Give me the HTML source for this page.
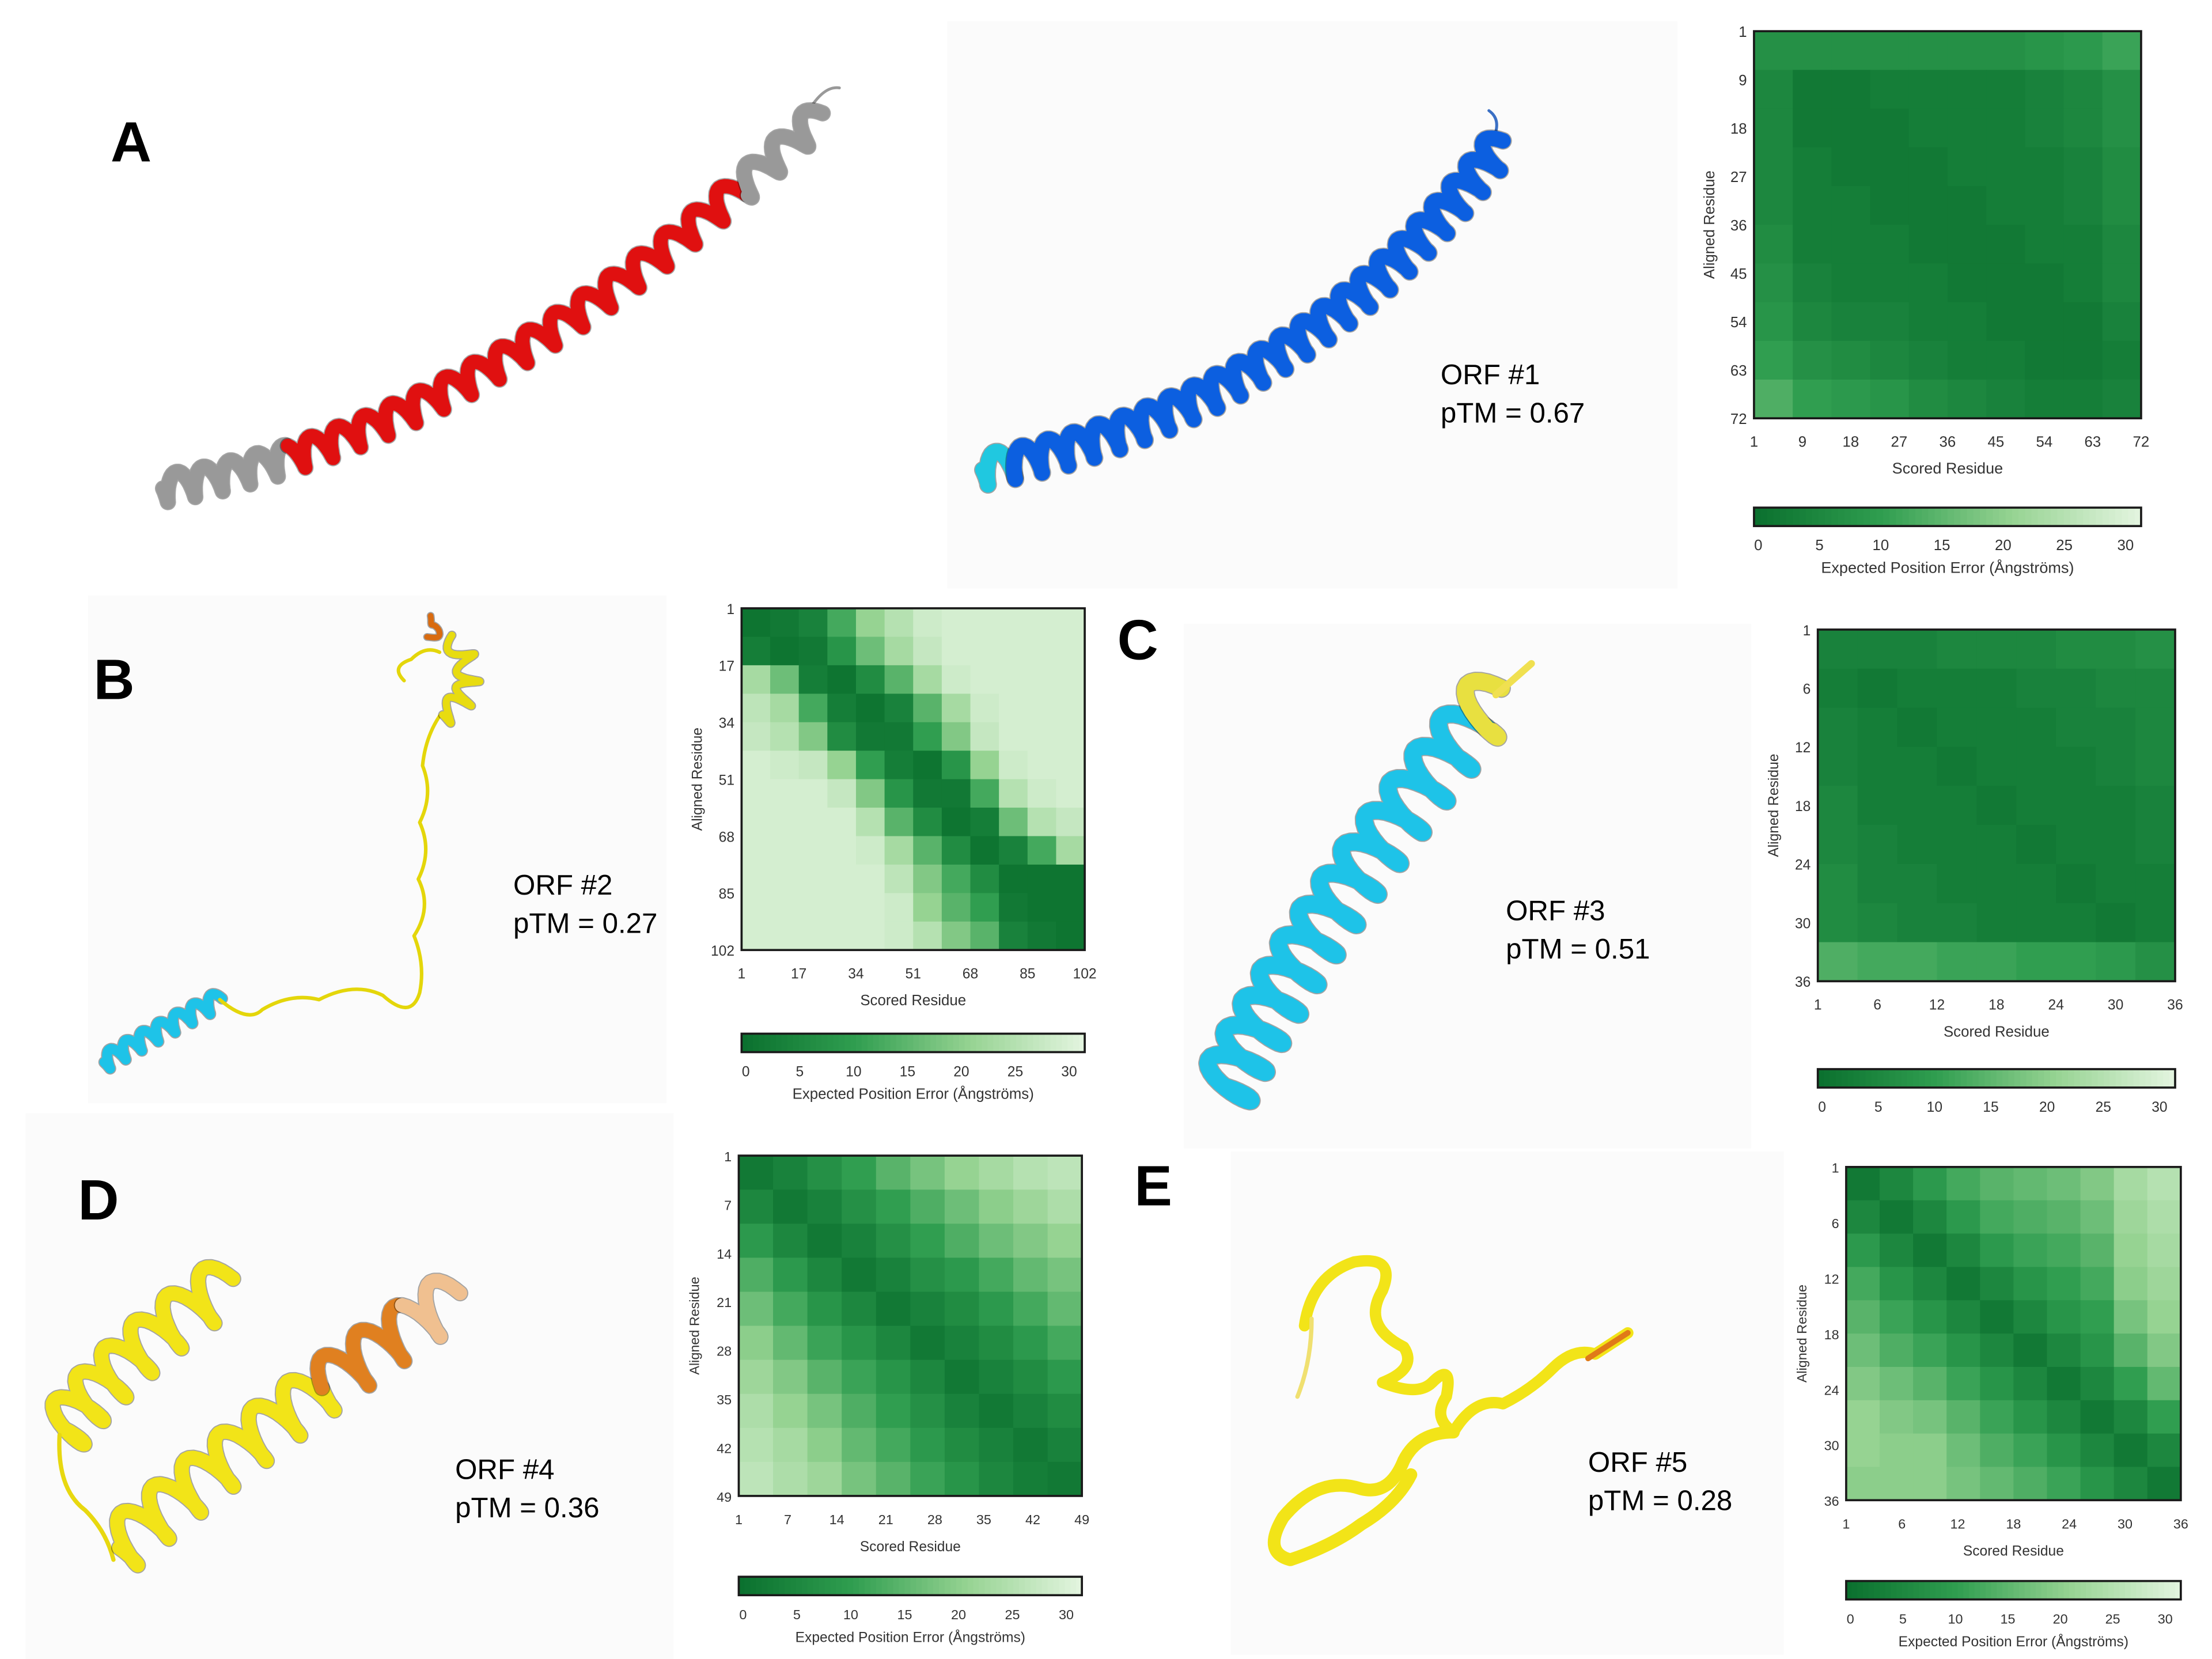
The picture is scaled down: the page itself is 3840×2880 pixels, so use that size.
<!DOCTYPE html>
<html><head><meta charset="utf-8"><style>
html,body{margin:0;padding:0;background:#fff}
svg{display:block}
text{font-family:"Liberation Sans",sans-serif}
</style></head><body>
<svg id="fig" width="3840" height="2880" viewBox="0 0 1560 1170" xmlns="http://www.w3.org/2000/svg">
<rect width="1560" height="1170" fill="#ffffff"/>
<g fill="#fbfbfb">
<rect x="668" y="15" width="515" height="400"/>
<rect x="62" y="420" width="408" height="358"/>
<rect x="835" y="440" width="400" height="370"/>
<rect x="18" y="785" width="457" height="385"/>
<rect x="868" y="812" width="390" height="355"/>
</g>
<g id="structs"></g>
<g id="maps"></g>
<g font-weight="bold" font-size="40" fill="#000">
<text x="78" y="114">A</text>
<text x="66" y="493">B</text>
<text x="788" y="465">C</text>
<text x="55" y="860">D</text>
<text x="800" y="850">E</text>
</g>
<g font-size="20" fill="#000">
<text x="1016" y="271">ORF #1</text>
<text x="1016" y="298">pTM = 0.67</text>
<text x="362" y="631">ORF #2</text>
<text x="362" y="658">pTM = 0.27</text>
<text x="1062" y="649">ORF #3</text>
<text x="1062" y="676">pTM = 0.51</text>
<text x="321" y="1043">ORF #4</text>
<text x="321" y="1070">pTM = 0.36</text>
<text x="1120" y="1038">ORF #5</text>
<text x="1120" y="1065">pTM = 0.28</text>
</g>
</svg>
<script>
// ---- PAE data (Å, 0-30) coarse grids ----
const paeA = [
[7,7,7,7,7,7,7,8,9,11],
[5,2,2,3,3,3,3,4,5,7],
[5,2,2,2,3,3,3,4,5,7],
[5,3,2,2,2,3,3,3,4,6],
[5,3,3,2,2,2,3,3,4,6],
[6,3,3,3,2,2,2,3,3,5],
[7,4,3,3,3,2,2,2,3,5],
[8,5,4,4,3,3,2,2,2,4],
[10,7,6,5,4,3,3,2,2,3],
[13,10,9,8,6,5,4,3,3,4]];
const paeB = [
[1,2,4,12,20,24,27,28,28,28,28,28],
[3,1,2,8,16,22,26,28,28,28,28,28],
[22,16,3,1,6,14,22,27,28,28,28,28],
[25,22,12,3,1,4,14,22,27,28,28,28],
[26,24,18,6,2,2,10,18,26,28,28,28],
[28,27,26,20,10,3,1,8,20,27,28,28],
[28,28,28,26,18,8,2,2,12,24,27,28],
[28,28,28,28,24,14,6,1,3,16,24,26],
[28,28,28,28,27,22,14,6,1,4,12,22],
[28,28,28,28,28,25,18,12,6,1,1,1],
[28,28,28,28,28,27,20,14,10,2,1,1],
[28,28,28,28,28,27,24,18,14,4,2,1]];
const paeC = [
[4,4,4,5,5,5,6,6,7],
[3,2,3,3,3,4,4,5,5],
[4,3,2,3,3,3,4,4,5],
[4,3,3,2,3,3,3,4,5],
[5,3,3,3,2,3,3,3,4],
[5,4,3,3,3,2,3,3,4],
[6,4,4,3,3,3,2,3,3],
[6,5,4,4,3,3,3,2,3],
[13,12,12,11,11,10,10,9,7]];
const paeD = [
[2,4,7,10,14,17,20,22,24,25],
[5,2,4,7,10,13,16,19,21,23],
[9,5,2,4,7,10,13,16,18,20],
[13,9,5,2,4,7,9,12,15,17],
[16,12,8,5,2,4,6,9,12,15],
[19,15,11,8,5,2,4,6,9,12],
[21,18,14,11,8,5,2,4,6,9],
[23,20,17,13,10,7,4,2,4,6],
[24,22,19,15,12,9,6,4,2,4],
[25,23,21,17,14,11,8,5,3,2]];
const paeE = [
[2,5,9,12,14,15,16,18,22,24],
[5,2,5,9,12,13,14,16,21,23],
[9,5,2,5,9,11,12,14,20,22],
[12,8,5,2,5,8,10,12,19,21],
[14,11,8,5,2,5,8,10,17,20],
[16,13,11,8,5,2,5,8,14,18],
[18,16,14,11,8,5,2,5,10,15],
[20,18,17,14,11,8,5,2,5,10],
[20,19,19,16,13,11,8,5,2,5],
[19,19,19,17,15,13,11,8,5,2]];
const ticksA = ["1","9","18","27","36","45","54","63","72"];
const ticksB = ["1","17","34","51","68","85","102"];
const ticksC = ["1","6","12","18","24","30","36"];
const ticksD = ["1","7","14","21","28","35","42","49"];
const ticksE = ["1","6","12","18","24","30","36"];
const cbTicks = ["0","5","10","15","20","25","30"];
const cbValues = [0,5,10,15,20,25,30];

const NS="http://www.w3.org/2000/svg";
function mk(tag,attrs,parent){const e=document.createElementNS(NS,tag);for(const k in attrs)e.setAttribute(k,attrs[k]);parent.appendChild(e);return e;}
const stops=[[0,[10,112,46]],[10,[48,158,80]],[20,[150,211,146]],[30,[228,245,224]]];
function color(v){v=Math.max(0,Math.min(30,v));for(let i=0;i<stops.length-1;i++){const a=stops[i],b=stops[i+1];if(v<=b[0]){const t=(v-a[0])/(b[0]-a[0]);const c=a[1].map((x,j)=>Math.round(x+(b[1][j]-x)*t));return `rgb(${c[0]},${c[1]},${c[2]})`;}}return "rgb(228,245,224)";}

const maps=document.getElementById('maps');
function heatmap(name,grid,ticks,x,y,w,h,cbY,fs,showCbTitle){
  const g=mk('g',{},maps);
  
  
  const n=grid.length, cw=w/n, ch=h/n;
  const xs=c=>x+c*cw, ys=r=>y+r*ch;
  grid.forEach((row,r)=>row.forEach((v,c)=>{
    const cell=mk('rect',{x:xs(c),y:ys(r),width:cw+0.3,height:ch+0.3,fill:color(v)},g);
    
    
  }));
  mk('rect',{x:x,y:y,width:w,height:h,fill:'none',stroke:'#1a1a1a','stroke-width':1.5},g);
  const k=ticks.length;
  ticks.forEach((t,i)=>{
    const p=i/(k-1);
    const tx=mk('text',{x:x+p*w,y:y+h+20,'font-size':fs,'text-anchor':'middle',fill:'#333'},g);tx.textContent=t;
    
    
    const ty=mk('text',{x:x-5,y:y+p*h+4,'font-size':fs,'text-anchor':'end',fill:'#333'},g);ty.textContent=t;
    
    
  });
  const xt=mk('text',{x:x+w/2,y:y+h+39,'font-size':fs+0.5,'text-anchor':'middle',fill:'#333'},g);xt.textContent='Scored Residue';
  
  
  const yt=mk('text',{x:0,y:0,'font-size':fs,'text-anchor':'middle',fill:'#333',transform:`translate(${x-28},${y+h/2}) rotate(-90)`},g);yt.textContent='Aligned Residue';
  
  
  const cb=mk('g',{},g);
  
  
  const seg=60;
  for(let i=0;i<seg;i++){mk('rect',{x:x+i*w/seg,y:cbY,width:w/seg+0.4,height:13,fill:color(30*(i+0.5)/seg)},cb);}
  mk('rect',{x:x,y:cbY,width:w,height:13,fill:'none',stroke:'#1a1a1a','stroke-width':1.5},cb);
  cbTicks.forEach((t,i)=>{
    const tt=mk('text',{x:x+3+cbValues[i]/30*(w-14),y:cbY+30,'font-size':fs,'text-anchor':'middle',fill:'#333'},cb);tt.textContent=t;
    
    
  });
  if(showCbTitle){const ct=mk('text',{x:x+w/2,y:cbY+46,'font-size':fs+0.5,'text-anchor':'middle',fill:'#333'},cb);ct.textContent='Expected Position Error (Ångströms)';
  
  }
}
heatmap('pae-heatmap-orf1',paeA,ticksA,1237,22,273,273,358,10.5,true);
heatmap('pae-heatmap-orf2',paeB,ticksB,523,429,242,241,729,10,true);
heatmap('pae-heatmap-orf3',paeC,ticksC,1282,444,252,248,754,10,false);
heatmap('pae-heatmap-orf4',paeD,ticksD,521,815,242,240,1112,9.5,true);
heatmap('pae-heatmap-orf5',paeE,ticksE,1302,823,236,235,1115,9.5,true);

// ---- structures (decorative ribbons) ----
const st=document.getElementById('structs');
function helix(name,p0,pc,p1,turns,amp,width,segs){
  const g=mk('g',{},st);
  
  
  const N=turns*24;
  const pts=[];
  for(let i=0;i<=N;i++){const t=i/N;const u=1-t;
    const bx=u*u*p0[0]+2*u*t*pc[0]+t*t*p1[0], by=u*u*p0[1]+2*u*t*pc[1]+t*t*p1[1];
    const dx=2*u*(pc[0]-p0[0])+2*t*(p1[0]-pc[0]), dy=2*u*(pc[1]-p0[1])+2*t*(p1[1]-pc[1]);
    const L=Math.hypot(dx,dy)||1; const nx=-dy/L, ny=dx/L;
    const s=Math.sin(2*Math.PI*turns*t), cc=Math.cos(2*Math.PI*turns*t);
    pts.push([bx+nx*amp*s+dx/L*amp*0.3*cc, by+ny*amp*s+dy/L*amp*0.3*cc, t]);}
  segs.forEach(sg=>{
    const sel=pts.filter(p=>p[2]>=sg[0]&&p[2]<=sg[1]);
    if(sel.length<2)return;
    const d='M'+sel.map(p=>p[0].toFixed(1)+','+p[1].toFixed(1)).join('L');
    mk('path',{d:d,fill:'none',stroke:'rgba(0,0,0,0.35)','stroke-width':width+1.5,'stroke-linejoin':'round','stroke-linecap':'round'},g);
    mk('path',{d:d,fill:'none',stroke:sg[2],'stroke-width':width,'stroke-linejoin':'round','stroke-linecap':'round'},g);
  });
}
function coil(name,d,col,w){const p=mk('path',{d:d,fill:'none',stroke:col,'stroke-width':w,'stroke-linecap':'round','stroke-linejoin':'round'},st);
  
  }
coil('orf1-ref-tail','M568,82 Q580,60 592,62','#999',2);
helix('orf1-reference-helix',[112,345],[340,310],[578,82],24,10,10,[[0,0.2,'#999'],[0.2,0.88,'#e01010'],[0.88,1,'#999']]);
coil('orf1-tail','M1052,100 Q1060,85 1050,78','#3a6fc4',2);
helix('orf1-helix',[690,332],[920,290],[1058,102],24,11,11,[[0,0.05,'#20c8e0'],[0.05,1,'#0c5fe0']]);
helix('orf2-cyan-helix',[72,750],[110,728],[155,705],7,6,7,[[0,1,'#1ec3e8']]);
coil('orf2-linker','M155,705 Q175,722 185,712 Q205,700 225,705 Q250,692 270,702 Q290,720 296,700 Q300,680 292,660 Q305,640 295,620 Q305,600 296,580 Q306,560 298,540 Q300,520 310,505','#e4d60a',2.5);
helix('orf2-top-helix',[310,505],[345,490],[320,450],4,8,5,[[0,1,'#e8dc10']]);
coil('orf2-top-loop','M285,480 Q275,470 290,465 Q300,455 310,460','#e4d60a',2.5);
helix('orf2-orange-turn',[300,450],[315,440],[305,435],1,5,4,[[0,1,'#d96b10']]);
helix('orf3-helix',[862,772],[930,640],[1055,490],13,20,12,[[0,0.93,'#1ec3e8'],[0.93,1,'#e8e040']]);
coil('orf3-tail','M1055,490 L1080,468','#f0e050',5);
helix('orf4-helix-1',[42,1012],[80,960],[160,905],6,18,10,[[0,1,'#f2e418']]);
coil('orf4-loop','M42,1012 Q40,1050 60,1065 Q75,1080 80,1100','#e8d810',3);
helix('orf4-helix-2',[80,1095],[190,1000],[320,915],10,18,10,[[0,0.65,'#f2e418'],[0.65,0.88,'#e08020'],[0.88,1,'#f0c090']]);
coil('orf5-ribbon-1','M920,935 Q925,900 955,890 Q985,885 975,910 Q960,935 990,950 Q1000,965 975,975 Q1000,985 1010,975 Q1025,960 1020,985 Q1010,1000 1025,1010','#f2e418',8);
coil('orf5-ribbon-2','M1025,1010 Q1040,985 1060,990 Q1080,980 1095,965 Q1110,950 1125,955 L1148,940','#f2e418',8);
coil('orf5-ribbon-3','M1025,1010 Q1000,1010 990,1030 Q980,1055 960,1050 Q930,1040 905,1070 Q890,1095 910,1100 Q940,1090 960,1075 Q985,1060 995,1040','#f2e418',9);
coil('orf5-orange-tip','M1120,958 L1148,940','#e07a18',4);
coil('orf5-strand','M915,985 Q925,960 925,930','#f0e070',3);
</script>
</body></html>
